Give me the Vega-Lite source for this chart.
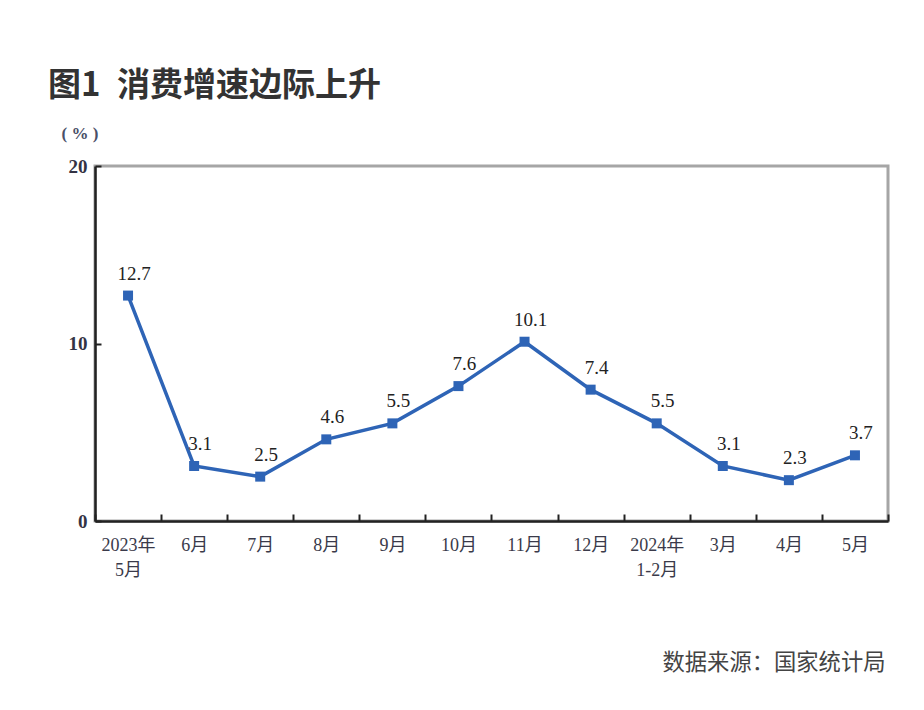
{
  "$schema": "https://vega.github.io/schema/vega-lite/v6.json",
  "width": 793,
  "height": 355,
  "autosize": "none",
  "padding": {"left": 95, "top": 166, "right": 36, "bottom": 189},
  "background": "white",
  "title": {
    "text": "图1\u2002消费增速边际上升",
    "anchor": "start",
    "frame": "group",
    "font": "Noto Sans CJK SC",
    "fontSize": 33,
    "fontWeight": "bold",
    "color": "#333333",
    "dx": -47,
    "offset": 21
  },
  "config": {
    "view": {"stroke": "#a6a6a6", "strokeWidth": 3},
    "font": "Liberation Serif"
  },
  "data": {
    "values": [
      {"month": "2023年|5月", "value": 12.7},
      {"month": "6月", "value": 3.1},
      {"month": "7月", "value": 2.5},
      {"month": "8月", "value": 4.6},
      {"month": "9月", "value": 5.5},
      {"month": "10月", "value": 7.6},
      {"month": "11月", "value": 10.1},
      {"month": "12月", "value": 7.4},
      {"month": "2024年|1-2月", "value": 5.5},
      {"month": "3月", "value": 3.1},
      {"month": "4月", "value": 2.3},
      {"month": "5月", "value": 3.7}
    ]
  },
  "encoding": {
    "x": {
      "field": "month",
      "type": "nominal",
      "sort": null,
      "bandPosition": 0.5,
      "scale": {"type": "band", "paddingInner": 0, "paddingOuter": 0},
      "axis": {
        "title": "数据来源：国家统计局",
        "titleFont": "Noto Sans CJK SC",
        "titleFontSize": 22.3,
        "titleFontWeight": "normal",
        "titleColor": "#444444",
        "titleAnchor": "end",
        "titleAlign": "right",
        "titleX": 790,
        "titleY": 153,
        "titleBaseline": "bottom",
        "labelAngle": 0,
        "labelExpr": "split(datum.label, '|')",
        "labelFont": "Liberation Serif, Noto Sans CJK SC",
        "labelFontSize": 18,
        "labelColor": "#3a3a4a",
        "labelLineHeight": 25,
        "labelPadding": 22,
        "labelBaseline": "top",
        "tickBand": "extent",
        "tickSize": -7,
        "tickColor": "#222222",
        "tickWidth": 2,
        "domainColor": "#222222",
        "domainWidth": 2.5
      }
    },
    "y": {
      "field": "value",
      "type": "quantitative",
      "scale": {"domain": [0, 20]},
      "axis": {
        "values": [0, 10, 20],
        "grid": false,
        "title": "( % )",
        "titleAngle": 0,
        "titleAlign": "left",
        "titleBaseline": "middle",
        "titleX": -34,
        "titleY": -33,
        "titleFont": "Liberation Serif",
        "titleFontSize": 17,
        "titleFontWeight": "bold",
        "titleColor": "#4a5068",
        "labelFont": "Liberation Serif",
        "labelFontSize": 19,
        "labelFontWeight": "bold",
        "labelColor": "#333344",
        "labelPadding": 14,
        "tickSize": -6,
        "tickColor": "#222222",
        "tickWidth": 2,
        "domainColor": "#222222",
        "domainWidth": 2.5
      }
    }
  },
  "layer": [
    {
      "mark": {"type": "line", "color": "#2e64b6", "strokeWidth": 3.5}
    },
    {
      "mark": {"type": "point", "shape": "square", "filled": true, "size": 100, "color": "#2e64b6", "opacity": 1}
    },
    {
      "mark": {"type": "text", "font": "Liberation Serif", "fontSize": 19, "color": "#222222", "baseline": "bottom", "dy": -12, "dx": 6},
      "encoding": {"text": {"field": "value", "type": "quantitative", "format": ".1f"}}
    }
  ]
}
